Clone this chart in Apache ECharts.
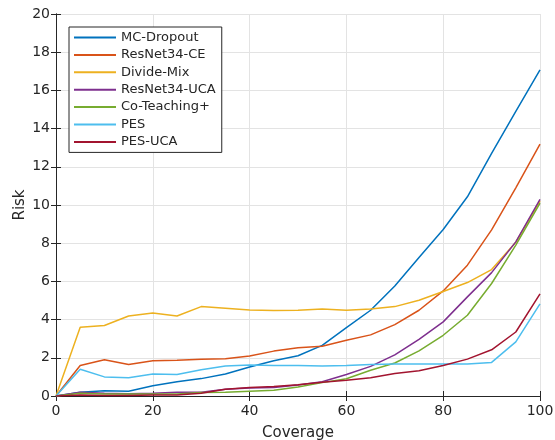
<!DOCTYPE html>
<html>
<head>
<meta charset="utf-8">
<script src="https://cdn.jsdelivr.net/npm/echarts@6/dist/echarts.min.js"></script>
<style>html,body{margin:0;padding:0;background:#fff;}#c{width:555px;height:440px;}</style>
</head>
<body>
<div id="c"></div>
<script>
const coverage = [0,5,10,15,20,25,30,35,40,45,50,55,60,65,70,75,80,85,90,95,100];
const mcDropout   = [0,0.2,0.28,0.25,0.54,0.75,0.91,1.15,1.52,1.85,2.11,2.65,3.58,4.49,5.76,7.25,8.72,10.43,12.7,14.9,17.07];
const resnetCE    = [0,1.6,1.9,1.65,1.85,1.87,1.92,1.95,2.1,2.35,2.52,2.6,2.92,3.2,3.74,4.49,5.5,6.85,8.7,10.9,13.19];
const divideMix   = [0,3.6,3.69,4.19,4.35,4.19,4.68,4.6,4.5,4.47,4.49,4.56,4.49,4.56,4.68,5.01,5.47,5.94,6.62,8.05,10.2];
const resnetUCA   = [0,0.2,0.15,0.12,0.15,0.2,0.2,0.35,0.42,0.45,0.58,0.75,1.13,1.55,2.15,2.97,3.88,5.19,6.46,8.07,10.3];
const coTeaching  = [0,0.15,0.1,0.1,0.1,0.1,0.18,0.2,0.25,0.3,0.47,0.7,0.9,1.35,1.73,2.36,3.18,4.23,5.89,7.9,10.1];
const pes         = [0,1.4,1.0,0.95,1.15,1.12,1.37,1.57,1.62,1.6,1.6,1.57,1.6,1.65,1.67,1.67,1.67,1.67,1.76,2.83,4.82];
const pesUCA      = [0,0.05,0.03,0.03,0.05,0.05,0.15,0.35,0.45,0.5,0.59,0.72,0.82,0.95,1.18,1.32,1.6,1.93,2.42,3.35,5.35];
const xTicks = [0,20,40,60,80,100];
const yTicks = [0,2,4,6,8,10,12,14,16,18,20];

const names  = ['MC-Dropout','ResNet34-CE','Divide-Mix','ResNet34-UCA','Co-Teaching+','PES','PES-UCA'];
const values = [mcDropout,resnetCE,divideMix,resnetUCA,coTeaching,pes,pesUCA];
const colors = ['#0072BD','#D95319','#EDB120','#7E2F8E','#77AC30','#4DBEEE','#A2142F'];

const FONT = 'DejaVu Sans';
const AX = '#262626';
const chart = echarts.init(document.getElementById('c'), null, {renderer:'canvas'});
const series = names.map((n,i)=>({
  name:n, type:'line', xAxisIndex:0, yAxisIndex:0,
  data: coverage.map((x,j)=>[x, values[i][j]]),
  showSymbol:false, symbol:'none', lineStyle:{color:colors[i], width:1.5}, itemStyle:{color:colors[i]},
  animation:false, z: 2+i
}));
const axisCommon = {
  axisLine:{show:true, lineStyle:{color:AX, width:1}},
  axisTick:{show:true, inside:true, length:5, lineStyle:{color:AX}},
};
chart.setOption({
  animation:false,
  textStyle:{fontFamily:FONT},
  grid:{left:56, right:15, top:14, bottom:44, containLabel:false, outerBoundsMode:'none'},
  legend:{
    show:true, orient:'vertical', left:69, top:27,
    data:names.map((n,i)=>({name:n, icon:'rect', itemStyle:{color:colors[i]}})),
    itemWidth:42, itemHeight:2, itemGap:2.4,
    padding:[3,6,3,5],
    backgroundColor:'#fff', borderColor:AX, borderWidth:1, borderRadius:0,
    textStyle:{fontFamily:FONT, fontSize:13, color:AX, lineHeight:15},
    selectedMode:false
  },
  xAxis:[{
    type:'value', min:0, max:100, interval:20, position:'bottom',
    name:'Coverage', nameLocation:'middle', nameGap:30,
    nameTextStyle:{fontFamily:FONT, fontSize:15, color:AX},
    ...axisCommon,
    axisLabel:{show:true, fontFamily:FONT, fontSize:14, color:AX, margin:8, formatter:v=>xTicks.includes(v)?String(v):''},
    splitLine:{show:true, lineStyle:{color:'#e3e3e3', width:1}}
  },{
    type:'value', min:0, max:100, interval:20, position:'top',
    ...axisCommon, axisLabel:{show:false}, splitLine:{show:false}
  }],
  yAxis:[{
    type:'value', min:0, max:20, interval:2, position:'left',
    name:'Risk', nameLocation:'middle', nameGap:28, nameMoveOverlap:false,
    nameTextStyle:{fontFamily:FONT, fontSize:15, color:AX},
    ...axisCommon,
    axisLabel:{show:true, fontFamily:FONT, fontSize:14, color:AX, margin:6, formatter:v=>yTicks.includes(v)?String(v):''},
    splitLine:{show:true, lineStyle:{color:'#e3e3e3', width:1}}
  },{
    type:'value', min:0, max:20, interval:2, position:'right',
    ...axisCommon, axisLabel:{show:false}, splitLine:{show:false}
  }],
  series: series
});
</script>
</body>
</html>
